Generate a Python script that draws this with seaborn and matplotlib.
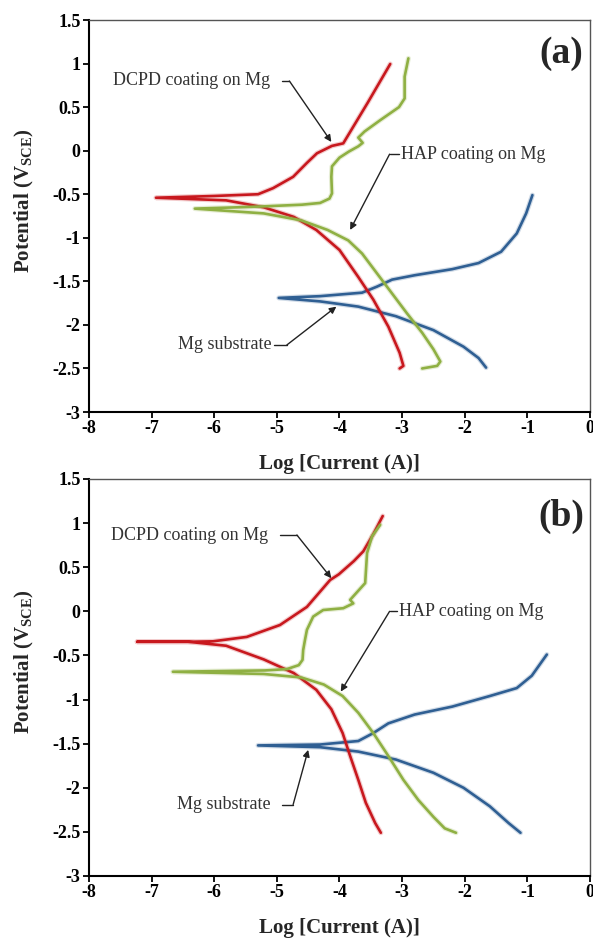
import pandas as pd
import matplotlib.pyplot as plt
import matplotlib.patheffects as pe
import seaborn as sns

# Polarization curves: log current (x) vs potential (y).
# Each curve runs from the cathodic end, through Ecorr, to the anodic end.

# ---- panel (a) ----
a_mg_x = [-1.66, -1.78, -2.02, -2.50, -3.10, -3.70, -4.31, -4.97,
          -4.31, -3.64, -3.40, -3.16, -2.80, -2.20, -1.78, -1.42, -1.17, -1.02, -0.92]
a_mg_y = [-2.49, -2.38, -2.25, -2.06, -1.90, -1.79, -1.73, -1.69,
          -1.67, -1.63, -1.56, -1.48, -1.43, -1.36, -1.29, -1.16, -0.95, -0.72, -0.51]

a_dcpd_x = [-3.04, -2.98, -3.04, -3.22, -3.46, -3.70, -4.00, -4.37, -4.73, -5.21, -5.81, -6.93,
            -6.00, -5.30, -5.06, -4.74, -4.52, -4.36, -4.12, -3.94, -3.55, -3.19]
a_dcpd_y = [-2.50, -2.47, -2.32, -2.02, -1.71, -1.45, -1.14, -0.91, -0.76, -0.65, -0.57, -0.54,
            -0.52, -0.50, -0.43, -0.30, -0.14, -0.03, 0.055, 0.084, 0.55, 0.995]

a_hap_x = [-2.68, -2.44, -2.39, -2.50, -2.68, -2.92, -3.16, -3.40, -3.64, -3.86, -4.19, -4.61,
           -5.21, -6.31, -5.40, -4.60, -4.31, -4.16, -4.12, -4.13, -4.12, -4.00, -3.85, -3.70,
           -3.63, -3.70, -3.60, -3.35, -3.05, -2.96, -2.96, -2.90]
a_hap_y = [-2.50, -2.47, -2.42, -2.28, -2.09, -1.87, -1.64, -1.41, -1.18, -1.03, -0.91, -0.80,
           -0.72, -0.665, -0.645, -0.62, -0.60, -0.55, -0.49, -0.30, -0.18, -0.08, -0.01, 0.05,
           0.09, 0.15, 0.22, 0.35, 0.50, 0.60, 0.85, 1.06]

# ---- panel (b) ----
b_mg_x = [-1.11, -1.30, -1.60, -2.02, -2.50, -3.10, -3.70, -4.31, -5.30,
          -4.31, -3.70, -3.46, -3.22, -2.80, -2.20, -1.60, -1.17, -0.93, -0.78, -0.69]
b_mg_y = [-2.51, -2.40, -2.21, -2.00, -1.83, -1.68, -1.59, -1.54, -1.52,
          -1.51, -1.47, -1.38, -1.27, -1.17, -1.08, -0.96, -0.87, -0.73, -0.58, -0.49]

b_dcpd_x = [-3.34, -3.43, -3.58, -3.70, -3.83, -3.95, -4.13, -4.37, -4.73, -5.21, -5.81, -6.42, -7.23,
            -6.40, -6.02, -5.48, -4.95, -4.52, -4.15, -4.01, -3.77, -3.62, -3.46, -3.31]
b_dcpd_y = [-2.51, -2.40, -2.17, -1.91, -1.64, -1.38, -1.11, -0.89, -0.70, -0.545, -0.39, -0.345, -0.345,
            -0.345, -0.34, -0.29, -0.155, 0.05, 0.355, 0.42, 0.57, 0.68, 0.875, 1.08]

b_hap_x = [-2.14, -2.32, -2.50, -2.74, -2.98, -3.22, -3.46, -3.70, -3.95, -4.25, -4.61, -5.21, -6.66,
           -5.19, -4.84, -4.65, -4.59, -4.58, -4.55, -4.52, -4.42, -4.26, -3.94, -3.78, -3.83,
           -3.78, -3.59, -3.56, -3.48, -3.35]
b_hap_y = [-2.51, -2.46, -2.33, -2.14, -1.91, -1.64, -1.38, -1.15, -0.96, -0.83, -0.75, -0.71, -0.685,
           -0.67, -0.655, -0.61, -0.55, -0.44, -0.32, -0.21, -0.06, 0.015, 0.035, 0.09, 0.13,
           0.17, 0.32, 0.66, 0.85, 0.98]

samples = ['Mg substrate', 'DCPD coating on Mg', 'HAP coating on Mg']
colors = {'Mg substrate': '#2f5f93', 'DCPD coating on Mg': '#c8181e', 'HAP coating on Mg': '#8fb043'}

x_ticks = [-8, -7, -6, -5, -4, -3, -2, -1, 0]
y_ticks = [1.5, 1, 0.5, 0, -0.5, -1, -1.5, -2, -2.5, -3]


def build(mg_x, mg_y, dcpd_x, dcpd_y, hap_x, hap_y):
    parts = []
    for name, xs, ys in zip(samples, [mg_x, dcpd_x, hap_x], [mg_y, dcpd_y, hap_y]):
        parts.append(pd.DataFrame({'logI': xs, 'E': ys, 'sample': name}))
    return pd.concat(parts, ignore_index=True)


df_a = build(a_mg_x, a_mg_y, a_dcpd_x, a_dcpd_y, a_hap_x, a_hap_y)
df_b = build(b_mg_x, b_mg_y, b_dcpd_x, b_dcpd_y, b_hap_x, b_hap_y)

sns.set_theme(style="white")
plt.rcParams['font.family'] = ['Liberation Serif', 'DejaVu Serif']
plt.rcParams['mathtext.fontset'] = 'custom'
plt.rcParams['mathtext.rm'] = 'Liberation Serif:bold'
plt.rcParams['mathtext.bf'] = 'Liberation Serif:bold'

fig = plt.figure(figsize=(5.93, 9.39), dpi=100)
ax_a = fig.add_axes([0.150, 0.5612, 0.845, 0.4175])
ax_b = fig.add_axes([0.150, 0.0671, 0.845, 0.4228])

# label, text start, dash start, elbow, arrow tip
notes_a = [
    ('DCPD coating on Mg', (-7.62, 0.80), -4.92, (-4.80, 0.80), (-4.13, 0.10)),
    ('HAP coating on Mg', (-3.02, -0.04), -3.05, (-3.20, -0.04), (-3.83, -0.91)),
    ('Mg substrate', (-6.58, -2.23), -5.04, (-4.84, -2.23), (-4.05, -1.79)),
]
notes_b = [
    ('DCPD coating on Mg', (-7.64, 0.865), -4.95, (-4.68, 0.865), (-4.13, 0.375)),
    ('HAP coating on Mg', (-3.05, 0.0), -3.08, (-3.20, 0.0), (-3.98, -0.91)),
    ('Mg substrate', (-6.59, -2.19), -4.92, (-4.74, -2.19), (-4.50, -1.57)),
]

panels = [(ax_a, df_a, notes_a, '(a)', 1.12), (ax_b, df_b, notes_b, '(b)', 1.08)]
for ax, df, notes, tag, tag_y in panels:
    sns.lineplot(data=df, x='logI', y='E', hue='sample', palette=colors,
                 sort=False, estimator=None, linewidth=1.9, legend=False, ax=ax)
    for line in ax.get_lines():
        line.set_path_effects([pe.Stroke(linewidth=3.6, foreground=line.get_color(), alpha=0.22),
                               pe.Normal()])

    for text, tpos, dash_x, elbow, tip in notes:
        ax.text(tpos[0], tpos[1], text, fontsize=13, ha='left', va='center', color='#333333')
        ax.plot([dash_x, elbow[0]], [elbow[1], elbow[1]], color='#222222', lw=1.0)
        ax.annotate('', xy=tip, xytext=elbow,
                    arrowprops=dict(arrowstyle='-|>', color='#222222', lw=1.0,
                                    mutation_scale=10, shrinkA=0, shrinkB=0))

    ax.text(-0.46, tag_y, tag, fontsize=27, fontweight='bold', ha='center', va='center')

    ax.set_xlim(-8, 0)
    ax.set_ylim(-3, 1.5)
    ax.set_xticks(x_ticks)
    ax.set_yticks(y_ticks)
    ax.set_xticklabels([str(t) for t in x_ticks])
    ax.set_yticklabels([f'{t:g}' for t in y_ticks])
    ax.tick_params(direction='out', length=4, width=1.3, labelsize=13, pad=2,
                   bottom=True, left=True, colors='black')
    for lab in ax.get_xticklabels() + ax.get_yticklabels():
        lab.set_fontweight('bold')
    ax.set_xlabel('Log [Current (A)]', fontsize=15, fontweight='bold')
    ax.set_ylabel(r'Potential (V$_{\mathregular{SCE}}$)', fontsize=15, fontweight='bold')
    ax.xaxis.set_label_coords(0.5, -0.107)
    ax.yaxis.set_label_coords(-0.105, 0.54)
    for side in ['left', 'bottom']:
        ax.spines[side].set_color('black')
        ax.spines[side].set_linewidth(1.5)
    for side in ['top', 'right']:
        ax.spines[side].set_color('#555555')
        ax.spines[side].set_linewidth(1.0)

plt.savefig('out.png', dpi=100)
